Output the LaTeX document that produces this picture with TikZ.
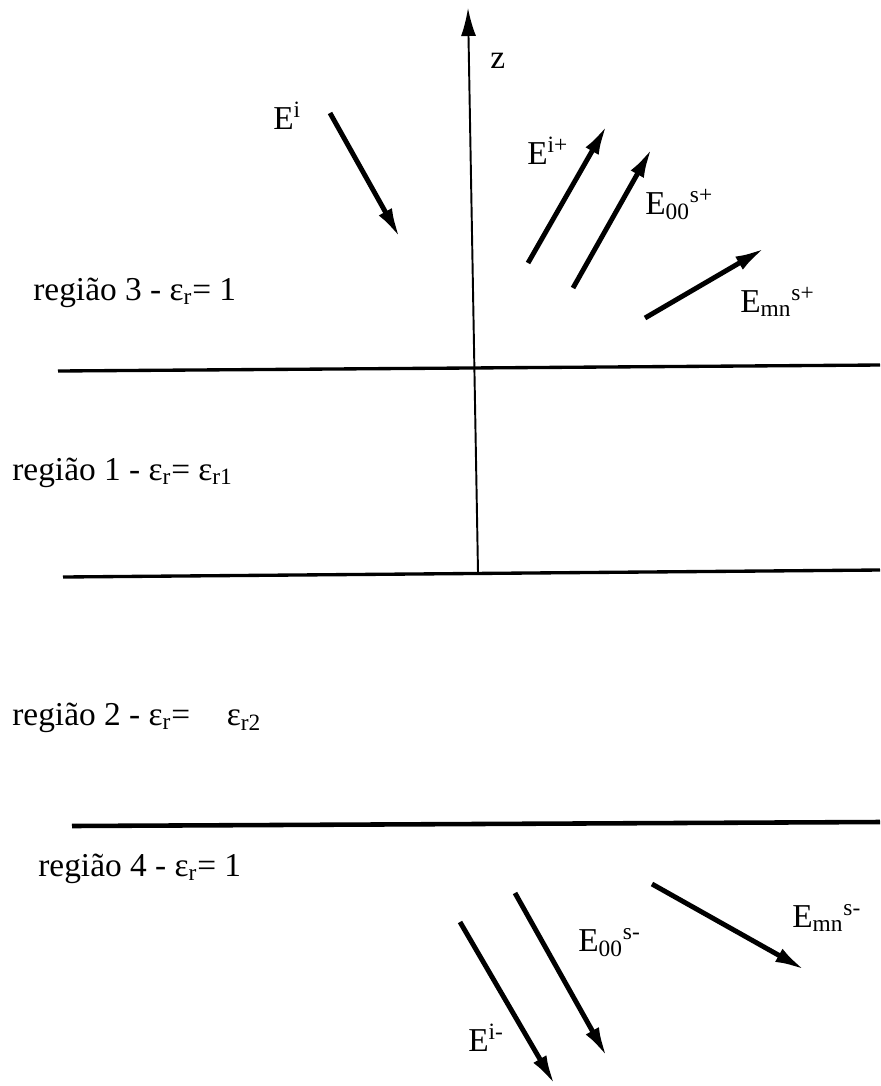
\documentclass[tikz,border=0pt]{standalone}
\usepackage{fontspec}
\setmainfont{Liberation Serif}
\usetikzlibrary{arrows.meta}

\begin{document}
\begin{tikzpicture}[
  x=0.02cm, y=-0.02cm,
  font=\fontsize{19}{22}\selectfont,
  lbl/.style={inner sep=0pt, anchor=base west},
  wave/.style={line width=2.8pt, -{Latex[length=0.6cm, width=0.3cm]}},
  iface/.style={line width=1.9pt},
  zaxis/.style={line width=1.1pt, -{Latex[length=0.56cm, width=0.3cm]}}
]
% Canvas in pixel units of the reference (880 x 1086), y pointing down
\useasboundingbox (0,0) rectangle (880,1086);

% Interface heights (left / right end)
\def\yA{371}
\def\yB{577}
\def\yC{826}

% Interfaces between the regions
\coordinate (ia1) at (58,\yA);  \coordinate (ia2) at (880,365);
\coordinate (ib1) at (63,\yB);  \coordinate (ib2) at (880,570);
\coordinate (ic1) at (72,\yC);  \coordinate (ic2) at (880,822);
\draw[iface] (ia1) -- (ia2);
\draw[iface] (ib1) -- (ib2);
\draw[iface, line width=2.6pt] (ic1) -- (ic2);

% z axis
\coordinate (zb) at (478,572);
\coordinate (zt) at (468,8);
\draw[zaxis] (zb) -- (zt);
\node[lbl] (zlab) at (490,68) {z};

% Region labels
\node[lbl] (reg3) at (33,300) {região 3 - ε\textsubscript{r}= 1};
\node[lbl] (reg1) at (12,480) {região 1 - ε\textsubscript{r}= ε\textsubscript{r1}};
\node[lbl] (reg2) at (12,725) {região 2 - ε\textsubscript{r}=\hspace{1.1em}ε\textsubscript{r2}};
\node[lbl] (reg4) at (38,876) {região 4 - ε\textsubscript{r}= 1};

% Incident wave (top)
\coordinate (ei1) at (330,113);  \coordinate (ei2) at (400,238);
\draw[wave] (ei1) -- (ei2);
\node[lbl] (eilab) at (273,129) {E\textsuperscript{i}};

% Upward waves in region 3
\coordinate (eip1) at (528,263);  \coordinate (eip2) at (607,125);
\draw[wave] (eip1) -- (eip2);
\node[lbl] (eiplab) at (527,164) {E\textsuperscript{i+}};

\coordinate (e00p1) at (573,288);  \coordinate (e00p2) at (652,148);
\draw[wave] (e00p1) -- (e00p2);
\node[lbl] (e00plab) at (645,214) {E\textsubscript{00}\textsuperscript{s+}};

\coordinate (emnp1) at (645,318);  \coordinate (emnp2) at (765,248);
\draw[wave] (emnp1) -- (emnp2);
\node[lbl] (emnplab) at (740,312) {E\textsubscript{mn}\textsuperscript{s+}};

% Downward waves in region 4
\coordinate (eim1) at (460,922);  \coordinate (eim2) at (555,1085);
\draw[wave] (eim1) -- (eim2);
\node[lbl] (eimlab) at (468,1051) {E\textsuperscript{i-}};

\coordinate (e00m1) at (515,893);  \coordinate (e00m2) at (607,1057);
\draw[wave] (e00m1) -- (e00m2);
\node[lbl] (e00mlab) at (578,951) {E\textsubscript{00}\textsuperscript{s-}};

\coordinate (emnm1) at (652,884);  \coordinate (emnm2) at (805,970);
\draw[wave] (emnm1) -- (emnm2);
\node[lbl] (emnmlab) at (792,927) {E\textsubscript{mn}\textsuperscript{s-}};

\end{tikzpicture}
\end{document}
